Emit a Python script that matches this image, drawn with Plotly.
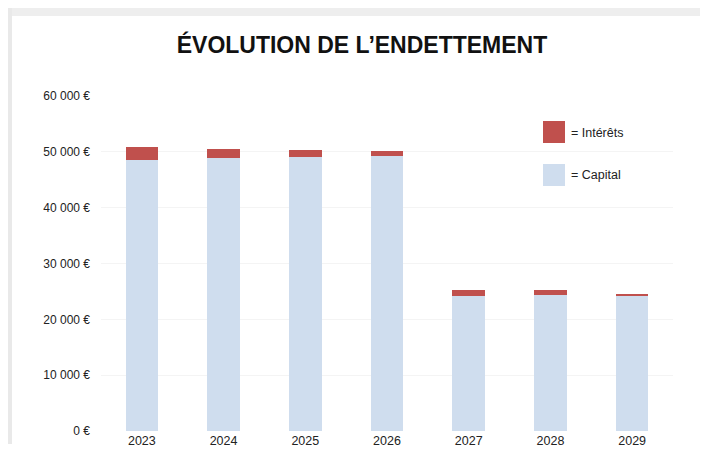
import plotly.graph_objects as go

years = ["2023", "2024", "2025", "2026", "2027", "2028", "2029"]
capital = [48600, 48900, 49100, 49300, 24200, 24300, 24300]
interets = [2200, 1600, 1200, 800, 1100, 900, 300]

tick_vals = [0, 10000, 20000, 30000, 40000, 50000, 60000]
tick_text = ["0 €", "10 000 €", "20 000 €", "30 000 €", "40 000 €", "50 000 €", "60 000 €"]

W, H = 708, 454
L, R, T, B = 93, 43, 88, 31
pw, ph = W - L - R, H - T - B


def px_x(x):
    return (x - L) / pw


def px_y(y):
    return (H - B - y) / ph


fig = go.Figure()
fig.add_trace(go.Bar(x=years, y=capital, name="Capital", marker_color="#CFDDEE",
                     marker_line_width=0))
fig.add_trace(go.Bar(x=years, y=interets, name="Intérêts", marker_color="#C0504D",
                     marker_line_width=0))

font = "Liberation Sans Narrow, Arial Narrow, sans-serif"

shapes = [
    # card shadow
    dict(type="rect", xref="paper", yref="paper", x0=px_x(0), x1=px_x(W), y0=px_y(0), y1=px_y(8),
         fillcolor="#EEEEEE", line_width=0, layer="below"),
    dict(type="rect", xref="paper", yref="paper", x0=px_x(0), x1=px_x(4), y0=px_y(0), y1=px_y(436),
         fillcolor="#E9E9E9", line_width=0, layer="below"),
    # legend swatches
    dict(type="rect", xref="paper", yref="paper", x0=px_x(535), x1=px_x(557), y0=px_y(113), y1=px_y(135),
         fillcolor="#C0504D", line_width=0),
    dict(type="rect", xref="paper", yref="paper", x0=px_x(535), x1=px_x(557), y0=px_y(156), y1=px_y(178),
         fillcolor="#CFDDEE", line_width=0),
]

annotations = [
    dict(text="= Intérêts", xref="paper", yref="paper", x=px_x(561), y=px_y(125),
         xanchor="left", yanchor="middle", showarrow=False, font=dict(family=font, size=12.5, color="#222")),
    dict(text="= Capital", xref="paper", yref="paper", x=px_x(561), y=px_y(167),
         xanchor="left", yanchor="middle", showarrow=False, font=dict(family=font, size=12.5, color="#222")),
]

fig.update_layout(
    width=W,
    height=H,
    barmode="stack",
    bargap=0.6,
    margin=dict(l=L, r=R, t=T, b=B),
    paper_bgcolor="white",
    plot_bgcolor="white",
    showlegend=False,
    title=dict(text="<b>ÉVOLUTION DE L’ENDETTEMENT</b>", x=0.5, xanchor="center", y=1 - 37 / H,
               yanchor="middle", font=dict(family="Liberation Sans, Arial, sans-serif", size=23, color="#111")),
    font=dict(family=font, size=12, color="#222"),
    shapes=shapes,
    annotations=annotations,
)
fig.update_xaxes(showline=False, ticks="", tickfont=dict(size=12.5))
fig.update_yaxes(range=[0, 60000], tickvals=tick_vals, ticktext=tick_text,
                 showgrid=True, gridcolor="#F4F4F4", zeroline=False, ticks="", ticklabelstandoff=10)

fig.write_html("out.html")
